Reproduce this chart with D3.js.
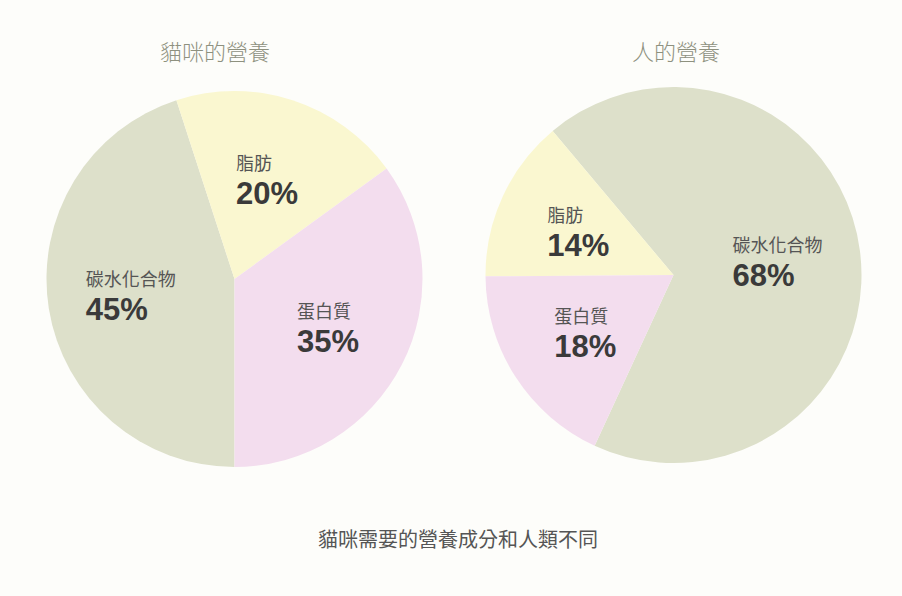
<!DOCTYPE html>
<html>
<head>
<meta charset="utf-8">
<script src="https://cdn.jsdelivr.net/npm/d3@7/dist/d3.min.js"></script>
<style>
    body { margin: 0; background: #fdfdfa; }
    svg { display: block; }
</style>
</head>
<body>
<svg id="chart" width="902" height="596"></svg>
<script>
// data
const categories = ["碳水化合物", "脂肪", "蛋白質"];
const catValues = [45, 20, 35];
const humanValues = [68, 14, 18];
const chartTitles = ["貓咪的營養", "人的營養"];
const caption = "貓咪需要的營養成分和人類不同";

const RADIUS = 188;
const LABEL_R = 105;

const COLORS = {
    "碳水化合物": "#dde0ca",
    "脂肪": "#faf7d0",
    "蛋白質": "#f3ddee"
};
const CJK = "'Noto Sans CJK TC', 'Noto Sans CJK SC', sans-serif";

const root = d3.select('#chart');

// layout of the two pies (clockwise slice order, start angle in degrees)
const charts = [
    { title: chartTitles[0], values: catValues, cx: 234.5, cy: 279, titleX: 215, order: [1, 2, 0], start: -18 },
    { title: chartTitles[1], values: humanValues, cx: 673.5, cy: 275, titleX: 676, order: [0, 2, 1], start: -40 }
];

charts.forEach(chart => drawPie(chart));

root.append('text')
    .text(caption)
    .attr('x', 458)
    .attr('y', 547)
    .attr('font-size', 20)
    .attr('font-family', CJK)
    .attr('fill', '#555')
    .attr('text-anchor', 'middle');

function drawPie(chart) {
    const rows = categories.map((c, i) => ({ name: c, value: chart.values[i], rank: chart.order.indexOf(i) }));
    const start = chart.start * Math.PI / 180;
    const pie = d3.pie()
        .value(d => d.value)
        .sort((a, b) => a.rank - b.rank)
        .startAngle(start)
        .endAngle(start + 2 * Math.PI);
    const arc = d3.arc().innerRadius(0).outerRadius(RADIUS);
    const labelArc = d3.arc().innerRadius(LABEL_R).outerRadius(LABEL_R);

    const g = root.append('g')
        .attr('transform', `translate(${chart.cx},${chart.cy})`);

    const arcs = pie(rows);

    g.selectAll('path')
        .data(arcs)
        .enter()
        .append('path')
        .attr('d', arc)
        .attr('fill', d => COLORS[d.data.name]);

    arcs.forEach(d => {
        const [x, y] = labelArc.centroid(d);
        const lg = g.append('g');
        const name = lg.append('text')
            .text(d.data.name)
            .attr('y', y - 9)
            .attr('font-size', 18)
            .attr('font-family', CJK)
            .attr('fill', '#555');
        const pct = lg.append('text')
            .text(d.data.value + '%')
            .attr('y', y + 25)
            .attr('font-size', 31)
            .attr('font-weight', 700)
            .attr('font-family', "'Liberation Sans', Arial, sans-serif")
            .attr('fill', '#3a3a3a');
        const w = Math.max(name.node().getComputedTextLength(), pct.node().getComputedTextLength());
        name.attr('x', x - w / 2);
        pct.attr('x', x - w / 2);
    });

    root.append('text')
        .text(chart.title)
        .attr('x', chart.titleX)
        .attr('y', 60)
        .attr('font-size', 22)
        .attr('font-family', CJK)
        .attr('font-weight', 300)
        .attr('fill', '#8e917f')
        .attr('text-anchor', 'middle');
}
</script>
</body>
</html>
